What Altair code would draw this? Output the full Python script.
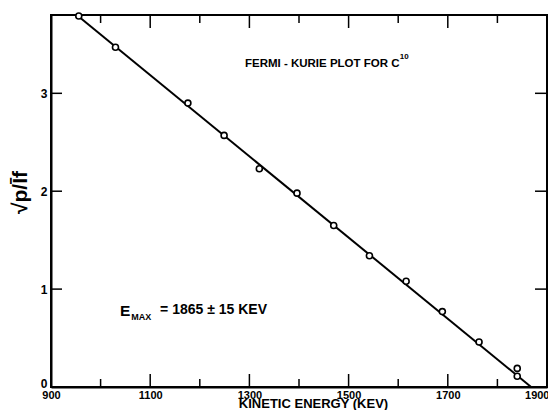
import altair as alt
import pandas as pd

# Data
energy_kev = [956, 1030, 1176, 1249, 1320, 1396, 1470, 1542, 1616, 1689, 1763, 1840, 1840]
sqrt_ratio = [3.79, 3.47, 2.90, 2.57, 2.23, 1.98, 1.65, 1.34, 1.08, 0.77, 0.46, 0.19, 0.11]

fit_x = [952, 1868]
fit_y = [3.80, 0.0]

x_major = [1100, 1300, 1500, 1700]
x_minor = [1000, 1200, 1400, 1600, 1800]
y_ticks = [1, 2, 3]
x_label_values = [900, 1100, 1300, 1500, 1700, 1900]
y_label_values = [0, 1, 2, 3]

title_text = "FERMI - KURIE PLOT FOR C"
title_sup = "10"
emax_e = "E"
emax_sub = "MAX"
emax_rest = "= 1865 ± 15 KEV"

W, H = 496, 372
FONT = "Liberation Sans"

xs = alt.Scale(domain=[900, 1900], nice=False, zero=False)
ys = alt.Scale(domain=[0, 3.8], nice=False, zero=False)

pts = pd.DataFrame({"e": energy_kev, "v": sqrt_ratio})
fit = pd.DataFrame({"e": fit_x, "v": fit_y})

x_axis = alt.Axis(values=x_label_values, format="d", domain=True, domainColor="black",
                  domainWidth=2, ticks=False, grid=False,
                  labelFont=FONT, labelFontSize=11, labelFontWeight="bold",
                  labelPadding=2, labelColor="black", labelFlush=False,
                  labelAlign={"condition": {"test": "datum.value == 1900", "value": "right"},
                              "value": "center"},
                  labelOffset={"condition": {"test": "datum.value == 1900", "value": 2},
                               "value": 0},
                  title="KINETIC ENERGY (KEV)", titleFont=FONT, titleFontSize=13,
                  titleFontWeight="bold", titleColor="black", titleX=262, titleY=20,
                  titleBaseline="alphabetic", titleAnchor="middle")
y_axis = alt.Axis(values=y_label_values, format="d", domain=True, domainColor="black",
                  domainWidth=2, ticks=False, grid=False,
                  labelFont=FONT, labelFontSize=12, labelFontWeight="bold",
                  labelPadding=4, labelColor="black", labelFlush=False,
                  labelOffset={"condition": {"test": "datum.value == 0", "value": -4}, "value": 0},
                  title="√p/Īf", titleFont=FONT, titleFontSize=21, titleFontWeight="bold",
                  titleColor="black", titleX=-31, titleY=177, titleAngle=-90,
                  titleAlign="center", titleBaseline="middle")

line = alt.Chart(fit).mark_line(color="black", strokeWidth=2).encode(
    x=alt.X("e:Q", scale=xs, axis=x_axis),
    y=alt.Y("v:Q", scale=ys, axis=y_axis),
)

points = alt.Chart(pts).mark_point(shape="circle", size=36, filled=True, fill="white",
                                   stroke="black", strokeWidth=1.6, opacity=1).encode(
    x=alt.X("e:Q", scale=xs), y=alt.Y("v:Q", scale=ys))

def xticks(vals, length):
    d = pd.DataFrame({"e": vals})
    bottom = alt.Chart(d).mark_rule(color="black", strokeWidth=1.5).encode(
        x=alt.X("e:Q", scale=xs), y=alt.value(H), y2=alt.value(H - length))
    top = alt.Chart(d).mark_rule(color="black", strokeWidth=1.5).encode(
        x=alt.X("e:Q", scale=xs), y=alt.value(0), y2=alt.value(length))
    return bottom + top

yd = pd.DataFrame({"v": y_ticks})
left_t = alt.Chart(yd).mark_rule(color="black", strokeWidth=1.5).encode(
    y=alt.Y("v:Q", scale=ys), x=alt.value(0), x2=alt.value(11))
right_t = alt.Chart(yd).mark_rule(color="black", strokeWidth=1.5).encode(
    y=alt.Y("v:Q", scale=ys), x=alt.value(W), x2=alt.value(W - 12))

# Plot frame (chart chrome): data-driven at the scale ends
frame_top = alt.Chart(pd.DataFrame({"e": [900], "e2": [1900], "v": [3.8]})).mark_rule(
    color="black", strokeWidth=2).encode(
    x=alt.X("e:Q", scale=xs), x2="e2:Q", y=alt.Y("v:Q", scale=ys))
frame_right = alt.Chart(pd.DataFrame({"e": [1900], "v": [0.0], "v2": [3.8]})).mark_rule(
    color="black", strokeWidth=2).encode(
    x=alt.X("e:Q", scale=xs), y=alt.Y("v:Q", scale=ys), y2="v2:Q")

def label(text, e, v, size):
    d = pd.DataFrame({"e": [e], "v": [v], "t": [text]})
    return alt.Chart(d).mark_text(align="left", baseline="middle", font=FONT,
                                  fontSize=size, fontWeight="bold", color="black").encode(
        x=alt.X("e:Q", scale=xs), y=alt.Y("v:Q", scale=ys), text="t:N")

texts = (label(title_text, 1291, 3.30, 11.5) + label(title_sup, 1603, 3.37, 8)
         + label(emax_e, 1039, 0.78, 15.5) + label(emax_sub, 1062, 0.71, 9)
         + label(emax_rest, 1120, 0.79, 14))

chart = alt.layer(
    line, frame_top, frame_right, xticks(x_major, 13), xticks(x_minor, 8),
    left_t, right_t, points, texts
).properties(
    width=W, height=H,
    autosize=alt.AutoSizeParams(type="none"),
    padding={"left": 43, "top": 7, "right": 1, "bottom": 23},
).configure(
    background="white",
    view=alt.ViewConfig(stroke="black", strokeWidth=2),
)

chart.save("out.html", embed_options={"renderer": "svg", "actions": False})
